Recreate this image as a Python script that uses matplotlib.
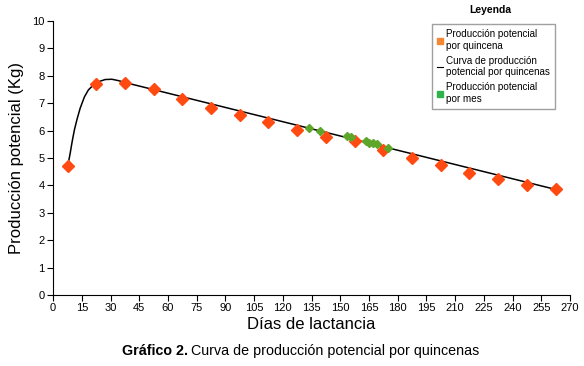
import numpy as np
import matplotlib.pyplot as plt
from matplotlib.lines import Line2D

plt.rcParams['font.family'] = ['Liberation Sans', 'DejaVu Sans']

# produccion potencial por quincena (puntos naranjas)
dias_q = [7.5, 22.5, 37.5, 52.5, 67.5, 82.5, 97.5, 112.5, 127.5,
          142.5, 157.5, 172.5, 187.5, 202.5, 217.5, 232.5, 247.5, 262.5]
prod_q = [4.72, 7.69, 7.75, 7.51, 7.14, 6.82, 6.56, 6.30, 6.02,
          5.78, 5.62, 5.29, 4.99, 4.73, 4.46, 4.22, 4.00, 3.86]

# produccion potencial por mes (puntos verdes)
dias_m = [133.7, 139.4, 153.3, 155.4, 163.4, 165.2, 167.0, 169.4, 175.1]
prod_m = [6.10, 6.00, 5.79, 5.75, 5.60, 5.56, 5.53, 5.49, 5.38]

# curva de produccion potencial por quincenas
dias_c = [7.5, 8.3, 8.9, 9.5, 10.1, 11.1, 12.4, 14.1, 16.3, 18.4, 21.0,
          23.7, 27.2, 30.7, 34.1, 37.6, 262.5]
prod_c = [4.72, 4.95, 5.17, 5.42, 5.66, 6.02, 6.39, 6.81, 7.22, 7.48, 7.66,
          7.78, 7.86, 7.87, 7.82, 7.75, 3.85]

fig = plt.figure(figsize=(5.84, 3.66), dpi=100)
ax = fig.add_axes([0.091, 0.194, 0.885, 0.749])

ax.plot(dias_c, prod_c, color='black', lw=1.1, zorder=2,
        solid_joinstyle='round')
ax.plot(dias_q, prod_q, 'D', color='#ff4a12', ms=6, mec='#ff4a12', zorder=3)
ax.plot(dias_m, prod_m, 'D', color='#5ea62a', ms=4.5, mec='#5ea62a', zorder=4)

ax.set_xlim(0, 270)
ax.set_ylim(0, 10)
ax.set_xticks(np.arange(0, 271, 15))
ax.set_yticks(np.arange(0, 11, 1))
ax.tick_params(labelsize=8, length=4, direction='out', pad=2)
for s in ['top', 'right']:
    ax.spines[s].set_visible(False)
ax.set_xlabel('Días de lactancia', fontsize=12, labelpad=3)
ax.set_ylabel('Producción potencial (Kg)', fontsize=12, labelpad=6)

handles = [
    Line2D([], [], marker='s', color='#f58634', ls='none', ms=4),
    Line2D([], [], color='black', lw=0.8),
    Line2D([], [], marker='s', color='#2db34a', ls='none', ms=4),
]
labels = ['Producción potencial\npor quincena',
          'Curva de producción\npotencial por quincenas',
          'Producción potencial\npor mes']
leg = ax.legend(handles, labels, loc='upper left',
                bbox_to_anchor=(0.724, 1.005), fontsize=7.1,
                frameon=True, fancybox=False, handlelength=0.6,
                handletextpad=0.3, borderpad=0.5, labelspacing=0.5)
leg.get_frame().set_edgecolor('#888888')
leg.get_frame().set_linewidth(1.0)

fig.text(0.84, 0.972, 'Leyenda', fontsize=7.5, fontweight='bold', ha='center', va='center')

fig.text(0.322, 0.04, 'Gráfico 2.', fontsize=10.3, fontweight='bold', ha='right', va='center')
fig.text(0.327, 0.04, 'Curva de producción potencial por quincenas', fontsize=10.3,
         ha='left', va='center')

fig.savefig('out.png', dpi=100)
